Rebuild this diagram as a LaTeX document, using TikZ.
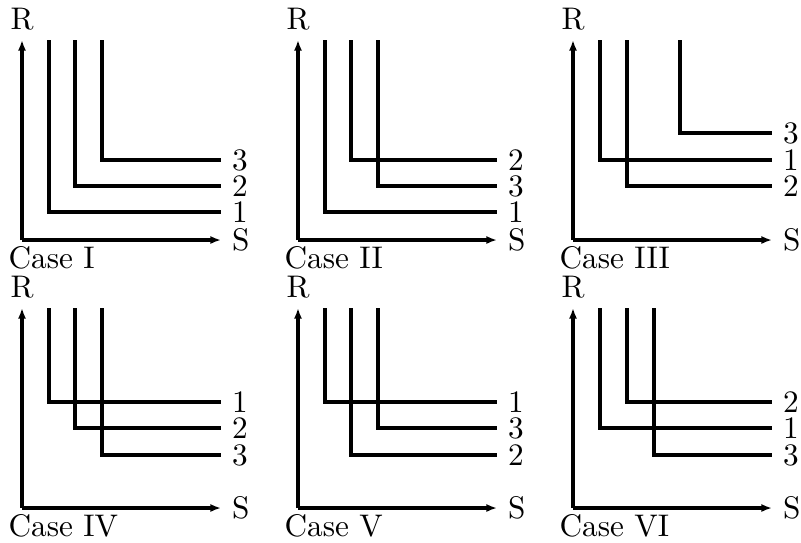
\documentclass[tikz,border=0pt]{standalone}
\usetikzlibrary{arrows.meta}
\tikzset{
  curve/.style={line width=1pt},
  axisline/.style={line width=1pt,-{Latex[length=3.4pt,width=2.6pt]}},
  numlab/.style={anchor=west,inner ysep=0pt},
  caselab/.style={anchor=base west,inner sep=0pt},
}
\newcommand\mypanel[6]{%
\begin{scope}[shift={(#2,#3)}]
  \coordinate (#1o) at (0,0);
  \coordinate (#1xe) at (199,0);
  \coordinate (#1ye) at (0,-200);
  \draw[axisline,line width=#6] (#1o) -- (#1xe);
  \draw[axisline] (#1o) -- (#1ye);
  \node[anchor=west,inner ysep=0pt] (#1S) at (#1xe) {S};
  \node[anchor=south,inner sep=3pt] (#1R) at (#1ye) {R};
  \node[caselab] (#1case) at (-14,28) {#4};
  \foreach \n/\dx/\dy in {#5} {
    \coordinate (#1t\n) at (\dx,-200);
    \coordinate (#1c\n) at (\dx,-\dy);
    \coordinate (#1e\n) at (199,-\dy);
    \draw[curve] (#1t\n) -- (#1c\n) -- (#1e\n);
    \node[numlab] (#1l\n) at (#1e\n) {\n};
  }
\end{scope}}
\begin{document}
\begin{tikzpicture}[x=0.32pt,y=-0.32pt]
  \useasboundingbox (0,0) rectangle (801,542);
  \mypanel{a}{22}{240}{Case I}{1/27/28,2/53/54,3/80/80}{1pt}
  \mypanel{b}{298}{240}{Case II}{1/27/28,2/53/80,3/80/54}{1pt}
  \mypanel{c}{573}{240}{Case III}{1/27/80,2/54/54,3/107/107}{1pt}
  \mypanel{d}{22}{508}{Case IV}{1/27/106,2/53/80,3/80/53}{1.3pt}
  \mypanel{e}{298}{508}{Case V}{1/27/106,2/53/53,3/80/80}{1.3pt}
  \mypanel{f}{573}{508}{Case VI}{1/27/80,2/54/106,3/81/53}{1.3pt}
\end{tikzpicture}
\end{document}
